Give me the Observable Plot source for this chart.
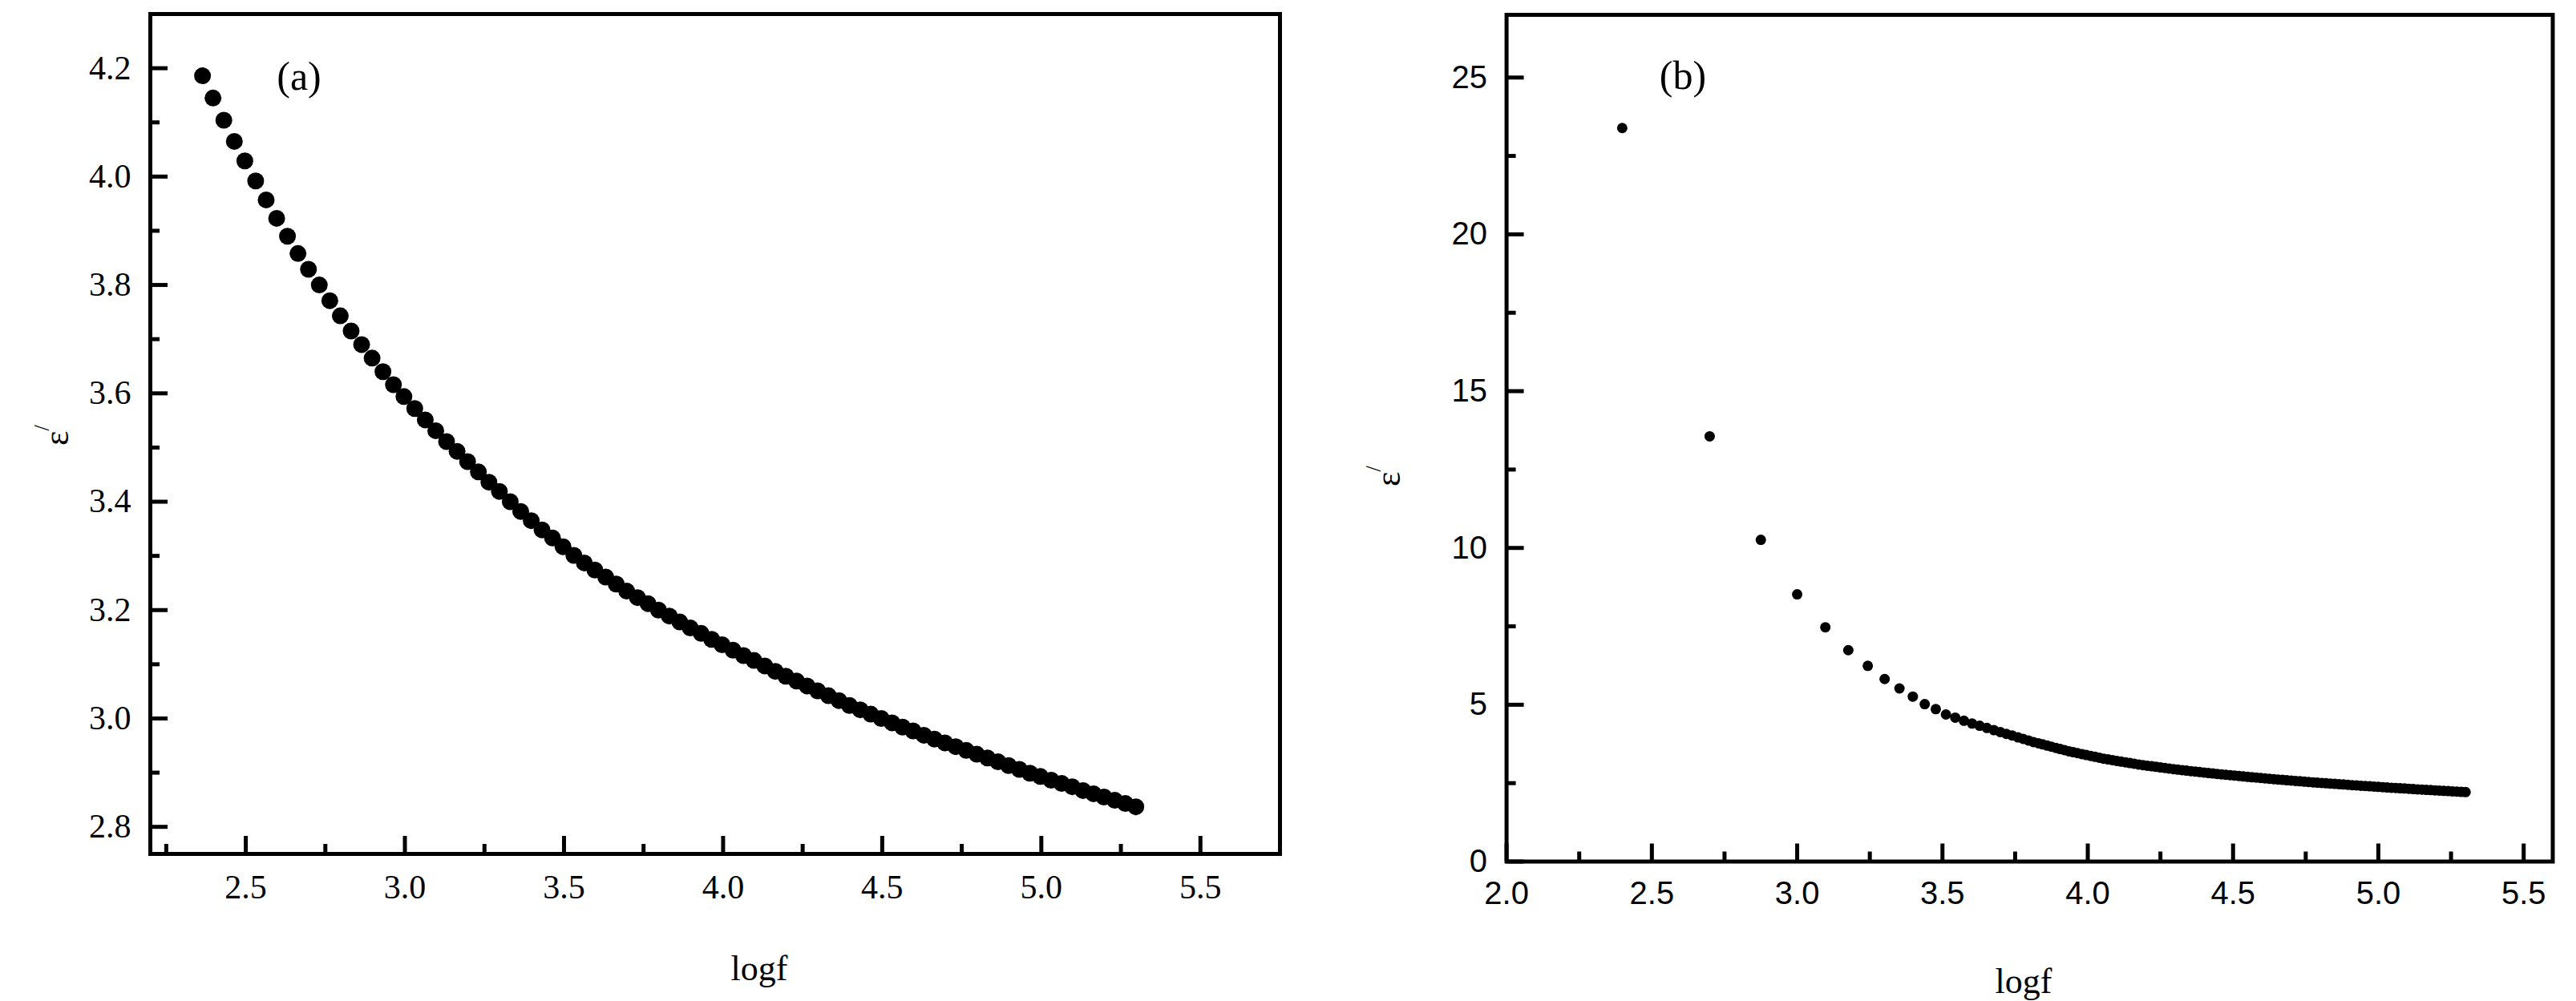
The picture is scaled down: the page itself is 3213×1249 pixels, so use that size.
<!DOCTYPE html>
<html><head><meta charset="utf-8">
<script src="https://cdn.jsdelivr.net/npm/d3@7"></script>
<script src="https://cdn.jsdelivr.net/npm/@observablehq/plot@0.6"></script>
<style>
html,body{margin:0;padding:0;background:#fff}
body{width:3213px;height:1249px;position:relative;overflow:hidden}
.panel{position:absolute;top:0}
.lbl{position:absolute;font-family:"Liberation Serif","Times New Roman",serif;color:#000;white-space:nowrap;line-height:1}
.c{transform:translate(-50%,-50%)}
.rot{transform:translate(-50%,-50%) rotate(-90deg)}
</style></head><body>
<div id="pa" class="panel" style="left:0"></div>
<div id="pb" class="panel" style="left:1700px"></div>
<div class="lbl c" style="left:373px;top:95px;font-size:50px">(a)</div>
<div class="lbl c" style="left:2099px;top:94px;font-size:50px">(b)</div>
<div class="lbl c" style="left:947px;top:1209px;font-size:44px">logf</div>
<div class="lbl c" style="left:2524px;top:1225px;font-size:44px">logf</div>
<div class="lbl rot" style="left:66px;top:543px;font-size:44px">ε<span style="font-size:0.6em;vertical-align:0.9em">/</span></div>
<div class="lbl rot" style="left:1727px;top:594px;font-size:44px">ε<span style="font-size:0.6em;vertical-align:0.9em">/</span></div>
<script>
// ---- Panel (a) data: logf vs ε′ ----
const leftLogf = [2.364,2.397,2.431,2.464,2.497,2.531,2.564,2.597,2.631,2.664,2.697,2.731,2.764,2.797,2.831,2.864,2.897,2.931,2.964,2.997,3.031,3.064,3.097,3.131,3.164,3.197,3.231,3.264,3.297,3.331,3.364,3.397,3.431,3.464,3.497,3.531,3.564,3.597,3.631,3.664,3.697,3.731,3.764,3.797,3.831,3.864,3.897,3.931,3.964,3.997,4.031,4.064,4.097,4.131,4.164,4.197,4.231,4.264,4.297,4.331,4.364,4.397,4.431,4.464,4.497,4.531,4.564,4.597,4.631,4.664,4.697,4.731,4.764,4.797,4.831,4.864,4.897,4.931,4.964,4.997,5.031,5.064,5.097,5.131,5.164,5.197,5.231,5.264,5.297];
const leftEps = [4.186,4.145,4.104,4.065,4.029,3.992,3.957,3.923,3.890,3.858,3.829,3.800,3.771,3.743,3.715,3.690,3.665,3.640,3.616,3.594,3.572,3.551,3.531,3.511,3.493,3.474,3.455,3.436,3.419,3.400,3.382,3.365,3.348,3.333,3.317,3.301,3.287,3.274,3.261,3.248,3.235,3.223,3.212,3.200,3.189,3.178,3.167,3.157,3.146,3.136,3.126,3.116,3.107,3.097,3.087,3.078,3.069,3.060,3.051,3.042,3.033,3.024,3.016,3.008,3.000,2.992,2.984,2.977,2.969,2.962,2.955,2.948,2.941,2.934,2.927,2.920,2.913,2.906,2.899,2.893,2.886,2.880,2.874,2.867,2.861,2.855,2.849,2.843,2.837];
const leftXTicks = [2.5,3.0,3.5,4.0,4.5,5.0,5.5];
const leftXMinor = [2.25,2.75,3.25,3.75,4.25,4.75,5.25];
const leftYTicks = [2.8,3.0,3.2,3.4,3.6,3.8,4.0,4.2];
const leftYMinor = [2.9,3.1,3.3,3.5,3.7,3.9,4.1];

// ---- Panel (b) data: logf vs ε′ ----
const rightLogf = [2.398,2.699,2.875,3.000,3.097,3.176,3.243,3.301,3.352,3.398,3.439,3.477,3.512,3.544,3.574,3.602,3.628,3.653,3.677,3.699,3.720,3.740,3.760,3.778,3.796,3.813,
3.830,3.845,3.860,3.875,3.890,3.905,3.920,3.935,3.950,3.965,3.980,3.995,4.010,4.025,4.040,4.055,4.070,4.085,4.100,4.115,4.130,4.145,4.160,4.175,4.190,4.205,4.220,4.235,4.250,4.265,4.280,4.295,4.310,4.325,4.340,4.355,4.370,4.385,4.400,4.415,4.430,4.445,4.460,4.475,4.490,4.505,4.520,4.535,4.550,4.565,4.580,4.595,4.610,4.625,4.640,4.655,4.670,4.685,4.700,4.715,4.730,4.745,4.760,4.775,4.790,4.805,4.820,4.835,4.850,4.865,4.880,4.895,4.910,4.925,4.940,4.955,4.970,4.985,5.000,5.015,5.030,5.045,5.060,5.075,5.090,5.105,5.120,5.135,5.150,5.165,5.180,5.195,5.210,5.225,5.240,5.255,5.270,5.285,5.300];
const rightEps = [23.39,13.56,10.26,8.52,7.47,6.74,6.24,5.82,5.52,5.26,5.02,4.86,4.69,4.59,4.49,4.40,4.33,4.26,4.19,4.13,4.07,4.02,3.96,3.91,3.86,3.81,
3.771,3.735,3.698,3.661,3.625,3.588,3.552,3.516,3.487,3.457,3.427,3.398,3.368,3.339,3.309,3.280,3.257,3.234,3.210,3.187,3.164,3.141,3.118,3.095,3.075,3.057,3.038,3.020,3.001,2.983,2.965,2.946,2.930,2.915,2.899,2.884,2.869,2.854,2.838,2.823,2.809,2.795,2.782,2.768,2.755,2.741,2.728,2.714,2.701,2.689,2.677,2.664,2.652,2.640,2.628,2.616,2.604,2.592,2.581,2.570,2.559,2.548,2.537,2.526,2.515,2.505,2.496,2.486,2.476,2.466,2.457,2.447,2.437,2.428,2.418,2.409,2.400,2.391,2.381,2.372,2.363,2.354,2.346,2.337,2.329,2.320,2.312,2.303,2.295,2.286,2.278,2.270,2.262,2.254,2.246,2.238,2.230,2.222,2.215];
const rightXTicks = [2.0,2.5,3.0,3.5,4.0,4.5,5.0,5.5];
const rightXMinor = [2.25,2.75,3.25,3.75,4.25,4.75,5.25];
const rightYTicks = [0,5,10,15,20,25];
const rightYMinor = [2.5,7.5,12.5,17.5,22.5];

function panel(o) {
  const iw = o.width - o.ml - o.mr, ih = o.height - o.mt - o.mb;
  return Plot.plot({
    width: o.width, height: o.height,
    marginTop: o.mt, marginRight: o.mr, marginBottom: o.mb, marginLeft: o.ml,
    x: {domain: o.xDomain, label: null},
    y: {domain: o.yDomain, label: null},
    style: {fontFamily: o.font, color: "black", background: "transparent", overflow: "visible"},
    marks: [
      Plot.tickX(o.xTicks, {x: d => d, insetTop: ih - 22, stroke: "black", strokeWidth: 5}),
      Plot.tickX(o.xMinor, {x: d => d, insetTop: ih - 12, stroke: "black", strokeWidth: 5}),
      Plot.tickY(o.yTicks, {y: d => d, insetRight: iw - 22, stroke: "black", strokeWidth: 5}),
      Plot.tickY(o.yMinor, {y: d => d, insetRight: iw - 12, stroke: "black", strokeWidth: 5}),
      Plot.axisX(o.xTicks, {tickSize: 0, tickPadding: o.xPad, fontSize: o.fs, tickFormat: o.fmtX, label: null, fill: "black"}),
      Plot.axisY(o.yTicks, {tickSize: 0, tickPadding: o.yPad, fontSize: o.fs, tickFormat: o.fmtY, label: null, fill: "black"}),
      Plot.dot(o.xs, {x: o.xs, y: o.ys, r: o.r, fill: "black", stroke: "none"}),
      Plot.frame({stroke: "black", strokeWidth: 5})
    ]
  });
}

document.getElementById("pa").append(panel({
  xs: leftLogf, ys: leftEps, width: 1700, height: 1249, mt: 17, mr: 104, mb: 184, ml: 187,
  xDomain: [2.2, 5.75], yDomain: [2.75, 4.30],
  xTicks: leftXTicks, xMinor: leftXMinor, yTicks: leftYTicks, yMinor: leftYMinor,
  font: '"Liberation Serif","Times New Roman",serif', fs: 42, xPad: 26, yPad: 24,
  fmtX: d => d.toFixed(1), fmtY: d => d.toFixed(1), r: 10.5
}));

document.getElementById("pb").append(panel({
  xs: rightLogf, ys: rightEps, width: 1513, height: 1249, mt: 18, mr: 29.5, mb: 174.5, ml: 178.6,
  xDomain: [2.0, 5.6], yDomain: [0, 27],
  xTicks: rightXTicks, xMinor: rightXMinor, yTicks: rightYTicks, yMinor: rightYMinor,
  font: '"Liberation Sans",Arial,sans-serif', fs: 40, xPad: 25, yPad: 24,
  fmtX: d => d.toFixed(1), fmtY: d => String(d), r: 6.5
}));
</script>
</body></html>
